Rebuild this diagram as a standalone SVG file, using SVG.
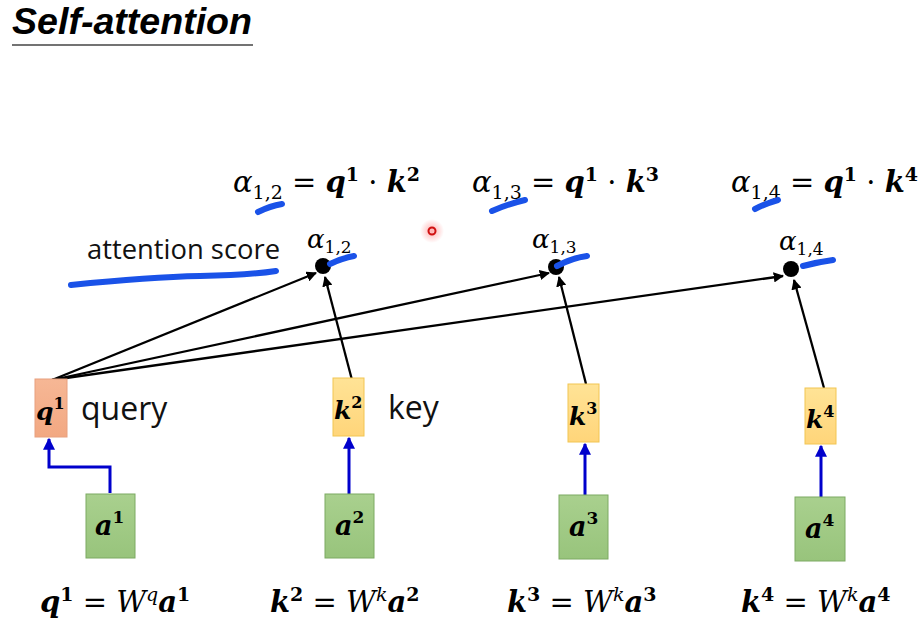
<svg xmlns="http://www.w3.org/2000/svg" width="924" height="632" viewBox="0 0 924 632">
<defs>
<linearGradient id="gq" x1="0" y1="0" x2="0" y2="1"><stop offset="0" stop-color="#F6B795"/><stop offset="1" stop-color="#F2A882"/></linearGradient>
<linearGradient id="gk" x1="0" y1="0" x2="0" y2="1"><stop offset="0" stop-color="#FFE396"/><stop offset="1" stop-color="#FFD57A"/></linearGradient>
<linearGradient id="ga" x1="0" y1="0" x2="0" y2="1"><stop offset="0" stop-color="#A9D08E"/><stop offset="1" stop-color="#98C47C"/></linearGradient>
<radialGradient id="glow"><stop offset="0" stop-color="#ff6060" stop-opacity="0.5"/><stop offset="1" stop-color="#ff6060" stop-opacity="0"/></radialGradient>
<marker id="ab" viewBox="0 0 10 10" refX="9" refY="5" markerWidth="4.5" markerHeight="4.5" orient="auto"><path d="M0,0 L10,5 L0,10 z" fill="#000"/></marker>
<marker id="au" viewBox="0 0 10 10" refX="9" refY="5" markerWidth="4" markerHeight="4" orient="auto"><path d="M0,0 L10,5 L0,10 z" fill="#0000CC"/></marker>
</defs>
<style>
.q{fill:url(#gq);stroke:#E8A07E;stroke-width:1}
.k{fill:url(#gk);stroke:#F2C552;stroke-width:1}
.a{fill:url(#ga);stroke:#7DAA62;stroke-width:1}
.m{font-family:"DejaVu Serif","Liberation Serif",serif;fill:#000}
.bi{font-weight:bold;font-style:italic}
.it{font-style:italic}
.s{font-family:"Open Sans","Liberation Sans",sans-serif;fill:#111}
.bl{stroke:#000;stroke-width:2.3;fill:none;marker-end:url(#ab)}
.bu{stroke:#0000CC;stroke-width:3;fill:none;marker-end:url(#au)}
.hl{stroke:#1A52E8;stroke-width:6;fill:none;stroke-linecap:round;stroke-linejoin:round}
</style>
<rect width="924" height="632" fill="#fff"/>

<g id="title">
<text x="12" y="34" font-family="Liberation Sans,Arial,sans-serif" font-weight="bold" font-style="italic" font-size="36" textLength="240" lengthAdjust="spacingAndGlyphs">Self-attention</text>
<line x1="12" y1="45" x2="253" y2="45" stroke="#444" stroke-width="1.5"/>
</g>

<g id="connectors">
<line class="bl" x1="52" y1="380" x2="316" y2="273"/>
<line class="bl" x1="52" y1="380" x2="549" y2="273"/>
<line class="bl" x1="52" y1="380" x2="783" y2="276"/>
<line class="bl" x1="352" y1="380" x2="325" y2="277"/>
<line class="bl" x1="586" y1="384" x2="559" y2="277"/>
<line class="bl" x1="824" y1="388" x2="794" y2="280"/>
<path class="bu" d="M110,493 V467 H49 V439"/>
<line class="bu" x1="349" y1="494" x2="349" y2="438"/>
<line class="bu" x1="585" y1="495" x2="585" y2="444"/>
<line class="bu" x1="821" y1="497" x2="821" y2="446"/>
</g>

<g id="q1"><rect class="q" x="35" y="379" width="32" height="58"/>
<text class="m bi" x="36" y="420" font-size="25">q<tspan font-size="16" font-style="normal" dy="-11">1</tspan></text></g>
<g id="k2"><rect class="k" x="333" y="378" width="31" height="58"/>
<text class="m bi" x="334" y="419" font-size="25">k<tspan font-size="16" font-style="normal" dy="-11">2</tspan></text></g>
<g id="k3"><rect class="k" x="568" y="384" width="31" height="58"/>
<text class="m bi" x="569" y="425" font-size="25">k<tspan font-size="16" font-style="normal" dy="-11">3</tspan></text></g>
<g id="k4"><rect class="k" x="805" y="388" width="31" height="56"/>
<text class="m bi" x="806" y="428" font-size="25">k<tspan font-size="16" font-style="normal" dy="-11">4</tspan></text></g>

<g id="a1"><rect class="a" x="86" y="494" width="49" height="64"/>
<text class="m bi" x="95" y="535" font-size="27">a<tspan font-size="17" font-style="normal" dy="-12">1</tspan></text></g>
<g id="a2"><rect class="a" x="325" y="494" width="49" height="64"/>
<text class="m bi" x="335" y="535" font-size="27">a<tspan font-size="17" font-style="normal" dy="-12">2</tspan></text></g>
<g id="a3"><rect class="a" x="559" y="495" width="49" height="64"/>
<text class="m bi" x="569" y="536" font-size="27">a<tspan font-size="17" font-style="normal" dy="-12">3</tspan></text></g>
<g id="a4"><rect class="a" x="795" y="497" width="50" height="64"/>
<text class="m bi" x="805" y="538" font-size="27">a<tspan font-size="17" font-style="normal" dy="-12">4</tspan></text></g>

<g id="dot12"><circle cx="323" cy="266" r="8" fill="#000"/>
<text class="m it" x="307" y="248" font-size="26">α<tspan font-style="normal" font-size="17" dy="5">1,2</tspan></text></g>
<g id="dot13"><circle cx="556" cy="267" r="8" fill="#000"/>
<text class="m it" x="532" y="248" font-size="26">α<tspan font-style="normal" font-size="17" dy="5">1,3</tspan></text></g>
<g id="dot14"><circle cx="791" cy="269" r="8" fill="#000"/>
<text class="m it" x="779" y="250" font-size="26">α<tspan font-style="normal" font-size="17" dy="5">1,4</tspan></text></g>

<g id="labels">
<text class="s" x="87" y="259" font-size="27" textLength="193" lengthAdjust="spacingAndGlyphs">attention score</text>
<text class="s" x="81" y="420" font-size="32">query</text>
<text class="s" x="388" y="419" font-size="32">key</text>
</g>

<g id="top-formulas" class="m" font-size="29">
<text x="233" y="192"><tspan font-style="italic">α</tspan><tspan font-size="19" dy="7">1,2</tspan><tspan dy="-7"> = </tspan><tspan class="bi">q</tspan><tspan font-weight="bold" font-size="19" dy="-11">1</tspan><tspan dy="11"> · </tspan><tspan class="bi">k</tspan><tspan font-weight="bold" font-size="19" dy="-11">2</tspan></text>
<text x="472" y="192"><tspan font-style="italic">α</tspan><tspan font-size="19" dy="7">1,3</tspan><tspan dy="-7"> = </tspan><tspan class="bi">q</tspan><tspan font-weight="bold" font-size="19" dy="-11">1</tspan><tspan dy="11"> · </tspan><tspan class="bi">k</tspan><tspan font-weight="bold" font-size="19" dy="-11">3</tspan></text>
<text x="731" y="192"><tspan font-style="italic">α</tspan><tspan font-size="19" dy="7">1,4</tspan><tspan dy="-7"> = </tspan><tspan class="bi">q</tspan><tspan font-weight="bold" font-size="19" dy="-11">1</tspan><tspan dy="11"> · </tspan><tspan class="bi">k</tspan><tspan font-weight="bold" font-size="19" dy="-11">4</tspan></text>
</g>

<g id="bottom-formulas" class="m" font-size="29">
<text x="40" y="612"><tspan class="bi">q</tspan><tspan font-weight="bold" font-size="19" dy="-11">1</tspan><tspan dy="11"> = </tspan><tspan font-style="italic">W</tspan><tspan font-style="italic" font-size="19" dy="-11">q</tspan><tspan class="bi" dy="11">a</tspan><tspan font-weight="bold" font-size="19" dy="-11">1</tspan></text>
<text x="270" y="612"><tspan class="bi">k</tspan><tspan font-weight="bold" font-size="19" dy="-11">2</tspan><tspan dy="11"> = </tspan><tspan font-style="italic">W</tspan><tspan font-style="italic" font-size="19" dy="-11">k</tspan><tspan class="bi" dy="11">a</tspan><tspan font-weight="bold" font-size="19" dy="-11">2</tspan></text>
<text x="507" y="612"><tspan class="bi">k</tspan><tspan font-weight="bold" font-size="19" dy="-11">3</tspan><tspan dy="11"> = </tspan><tspan font-style="italic">W</tspan><tspan font-style="italic" font-size="19" dy="-11">k</tspan><tspan class="bi" dy="11">a</tspan><tspan font-weight="bold" font-size="19" dy="-11">3</tspan></text>
<text x="741" y="612"><tspan class="bi">k</tspan><tspan font-weight="bold" font-size="19" dy="-11">4</tspan><tspan dy="11"> = </tspan><tspan font-style="italic">W</tspan><tspan font-style="italic" font-size="19" dy="-11">k</tspan><tspan class="bi" dy="11">a</tspan><tspan font-weight="bold" font-size="19" dy="-11">4</tspan></text>
</g>

<g id="highlights">
<path class="hl" d="M258,212 Q270,206 282,204"/>
<path class="hl" d="M330,264 Q342,258 354,256"/>
<path class="hl" d="M71,285 Q150,277 200,276 Q250,275 276,271"/>
<path class="hl" d="M492,211 Q508,204 525,200"/>
<path class="hl" d="M557,266 Q572,258 587,256"/>
<path class="hl" d="M755,209 Q767,203 778,200"/>
<path class="hl" d="M803,266 Q818,262 833,260"/>
</g>

<g id="pointer">
<circle cx="432" cy="231" r="12" fill="url(#glow)"/>
<circle cx="432" cy="231" r="3.5" fill="none" stroke="#d01010" stroke-width="2"/>
</g>
</svg>
